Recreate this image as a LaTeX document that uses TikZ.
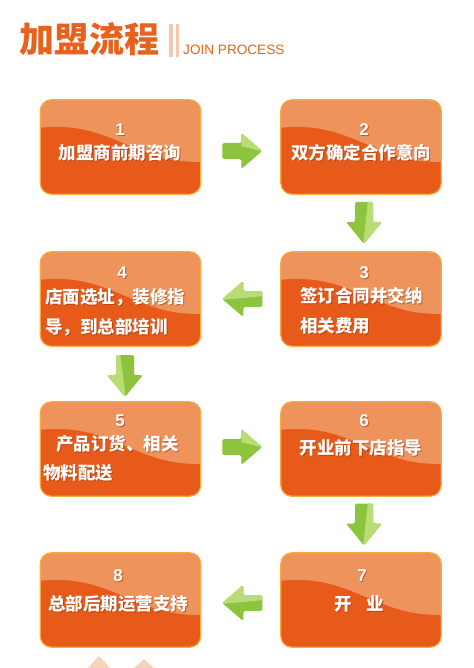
\documentclass[tikz,border=0pt]{standalone}
\usepackage{fontspec}
\setmainfont{Liberation Sans}
\newfontfamily\cjk{Noto Sans CJK SC}
\usetikzlibrary{calc}
\definecolor{boxlight}{RGB}{239,147,92}
\definecolor{boxdark}{RGB}{232,90,26}
\definecolor{boxborder}{RGB}{250,170,60}
\definecolor{titleor}{RGB}{232,98,30}
\definecolor{barcol}{RGB}{244,200,172}
\definecolor{gdark}{RGB}{140,196,62}
\definecolor{glight}{RGB}{184,221,116}
\definecolor{shadowc}{RGB}{150,50,10}
\tikzset{
  boxnode/.style={minimum width=160pt,minimum height=94pt,inner sep=0pt},
  txt/.style={text=white,font=\cjk\bfseries\fontsize{17.5}{18}\selectfont,inner sep=0pt},
  numtxt/.style={text=white,font=\bfseries\fontsize{17}{18}\selectfont,inner sep=0pt},
}
\newcommand{\flowbox}[3]{%
  \node[boxnode] (#1) at (#2,#3) {};
  \begin{scope}
    \clip[rounded corners=11pt] (#1.north west) rectangle (#1.south east);
    \fill[boxdark] (#1.north west) rectangle (#1.south east);
    \fill[boxlight] (#1.north west) -- ($(#1.north west)+(0,28)$)
      .. controls ($(#1.north west)+(70,20)$) and ($(#1.north west)+(95,64)$) .. ($(#1.north west)+(160,62)$)
      -- (#1.north east) -- cycle;
  \end{scope}
  \draw[boxborder,line width=1.2pt,rounded corners=11pt] (#1.north west) rectangle (#1.south east);
}
% shadowed text: name, style, anchor, position, text
\newcommand{\stxt}[5]{%
  \node[#2,anchor=#3,text=shadowc,opacity=0.55] (#1s) at ($#4+(1,1)$) {#5};
  \node[#2,anchor=#3] (#1) at #4 {#5};
}
% arrows
\newcommand{\rarrow}[2]{%
  \begin{scope}[shift={#1}]
  \path[fill=gdark,rounded corners=1.5pt] (-20,-8) -- (-1,-8) -- (-1,-18) -- (20,0) -- (-1,18) -- (-1,8) -- (-20,8) -- cycle;
  \begin{scope}
  \clip[rounded corners=1.5pt] (-20,-8) -- (-1,-8) -- (-1,-18) -- (20,0) -- (-1,18) -- (-1,8) -- (-20,8) -- cycle;
  \fill[glight] (-1,-20) -- (22,-20) -- (22,1) -- (-1,-5) -- cycle;
  \end{scope}
  \node[inner sep=0pt] (#2) at (0,0) {};
  \end{scope}
}
\newcommand{\larrow}[2]{%
  \begin{scope}[shift={#1}]
  \path[fill=gdark,rounded corners=1.5pt] (20,-8) -- (1,-8) -- (1,-18) -- (-20,0) -- (1,18) -- (1,8) -- (20,8) -- cycle;
  \begin{scope}
  \clip[rounded corners=1.5pt] (20,-8) -- (1,-8) -- (1,-18) -- (-20,0) -- (1,18) -- (1,8) -- (20,8) -- cycle;
  \fill[glight] (22,-20) -- (-22,-20) -- (-22,1) -- (22,-3) -- cycle;
  \end{scope}
  \node[inner sep=0pt] (#2) at (0,0) {};
  \end{scope}
}
\newcommand{\darrow}[3]{%
  \begin{scope}[shift={#1}]
  \path[fill=gdark,rounded corners=1.5pt] (-9,-21) -- (9,-21) -- (9,-1) -- (18,-1) -- (0,21) -- (-18,-1) -- (-9,-1) -- cycle;
  \begin{scope}
  \clip[rounded corners=1.5pt] (-9,-21) -- (9,-21) -- (9,-1) -- (18,-1) -- (0,21) -- (-18,-1) -- (-9,-1) -- cycle;
  \ifnum#3=1
    \fill[glight] (4,-23) -- (20,-23) -- (20,23) -- (-1,23) -- cycle;
  \else
    \fill[glight] (-5,-23) -- (-20,-23) -- (-20,23) -- (1,23) -- cycle;
  \fi
  \end{scope}
  \node[inner sep=0pt] (#2) at (0,0) {};
  \end{scope}
}
\begin{document}
\begin{tikzpicture}[x=1pt,y=-1pt]
\useasboundingbox[fill=white] (0,0) rectangle (473,668);
% title
\node[anchor=west,inner sep=0pt,text=titleor,font=\cjk\bfseries\fontsize{35}{36}\selectfont] (title) at (19,39) {加盟流程};
\fill[barcol] (169,24) rectangle (172.5,57);
\fill[barcol] (175.5,24) rectangle (179,57);
\node[anchor=base west,inner sep=0pt,text=titleor,font=\fontsize{13.6}{14}\selectfont] (sub) at (183,55) {JOIN PROCESS};
% boxes
\flowbox{b1}{120.5}{147}
\flowbox{b2}{361}{147}
\flowbox{b3}{361}{299}
\flowbox{b4}{120.5}{299}
\flowbox{b5}{120.5}{449}
\flowbox{b6}{361}{449}
\flowbox{b7}{361}{600}
\flowbox{b8}{120.5}{600}
% texts
\stxt{n1}{numtxt}{center}{(120,130)}{1}
\stxt{t1}{txt}{center}{(120,153)}{加盟商前期咨询}
\stxt{n2}{numtxt}{center}{(364,130)}{2}
\stxt{t2}{txt}{center}{(361,153)}{双方确定合作意向}
\stxt{n3}{numtxt}{center}{(364,273)}{3}
\stxt{t3a}{txt}{west}{(300,296)}{签订合同并交纳}
\stxt{t3b}{txt}{west}{(300,326)}{相关费用}
\stxt{n4}{numtxt}{center}{(122,273)}{4}
\stxt{t4a}{txt}{west}{(45,297)}{店面选址，装修指}
\stxt{t4b}{txt}{west}{(45,327)}{导，到总部培训}
\stxt{n5}{numtxt}{center}{(120,421)}{5}
\stxt{t5a}{txt}{west}{(56,444)}{产品订货、相关}
\stxt{t5b}{txt}{west}{(43,473)}{物料配送}
\stxt{n6}{numtxt}{center}{(364,421)}{6}
\stxt{t6}{txt}{center}{(361,448)}{开业前下店指导}
\stxt{n7}{numtxt}{center}{(362,576)}{7}
\stxt{t7}{txt}{center}{(359,604)}{开\hspace{14pt}业}
\stxt{n8}{numtxt}{center}{(118,576)}{8}
\stxt{t8}{txt}{center}{(118,604)}{总部后期运营支持}
% arrows
\rarrow{($(b1.east)!0.5!(b2.west)+(1.5,4)$)}{a12}
\darrow{($(b2.south)!0.5!(b3.north)+(3,0)$)}{a23}{1}
\larrow{($(b3.west)!0.5!(b4.east)+(1.5,0)$)}{a34}
\darrow{($(b4.south)!0.5!(b5.north)+(4.5,2)$)}{a45}{0}
\rarrow{($(b5.east)!0.5!(b6.west)+(1.5,-2)$)}{a56}
\darrow{($(b6.south)!0.5!(b7.north)+(3,0)$)}{a67}{1}
\larrow{($(b7.west)!0.5!(b8.east)+(1.5,3)$)}{a78}
% faint shapes at bottom
\fill[barcol,opacity=0.8] (88,668) -- (99,656) -- (110,668) -- cycle;
\fill[barcol,opacity=0.8] (134,668) -- (144,659) -- (154,668) -- cycle;
\end{tikzpicture}
\end{document}
